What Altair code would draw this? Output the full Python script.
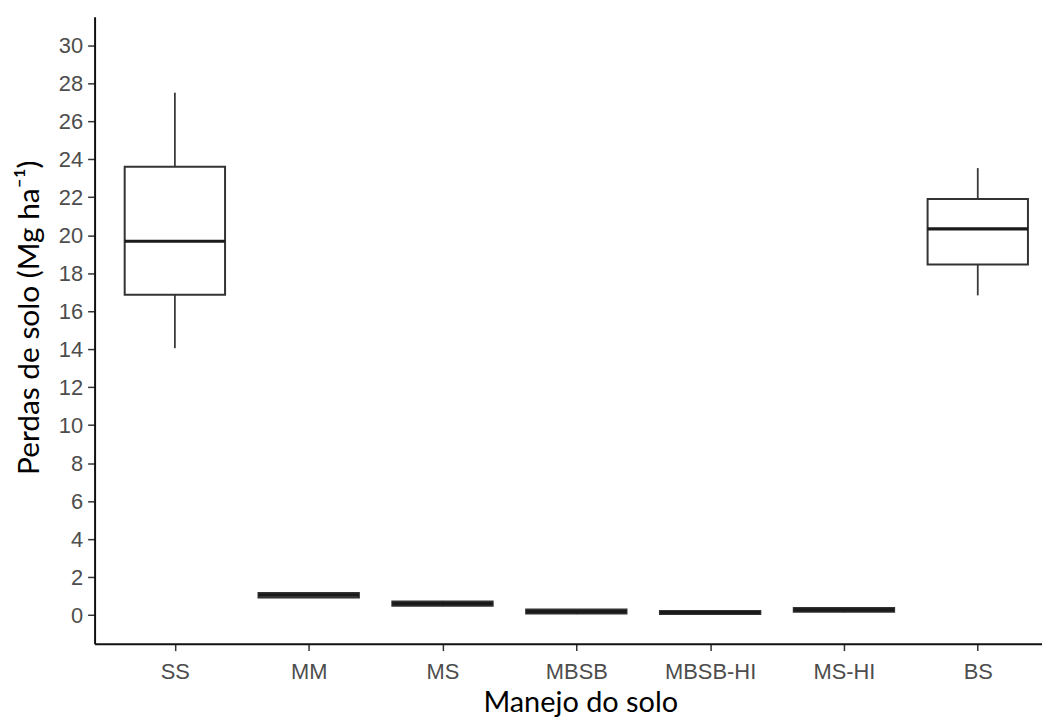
import json
import altair as alt
import pandas as pd

categories = ["SS", "MM", "MS", "MBSB", "MBSB-HI", "MS-HI", "BS"]
lower = [14.05, 0.90, 0.47, 0.05, 0.04, 0.15, 16.83]
q1 = [16.87, 0.93, 0.50, 0.08, 0.06, 0.18, 18.46]
median = [19.68, 1.05, 0.61, 0.19, 0.14, 0.28, 20.33]
q3 = [23.60, 1.17, 0.72, 0.30, 0.22, 0.38, 21.90]
upper = [27.50, 1.20, 0.75, 0.32, 0.24, 0.41, 23.53]
y_ticks = list(range(0, 31, 2))

df = pd.DataFrame({
    "cat": categories,
    "i": list(range(len(categories))),
    "lower": lower,
    "q1": q1,
    "median": median,
    "q3": q3,
    "upper": upper,
})

LABEL_FONT = "'Liberation Sans Narrow', 'Arial Narrow', 'Liberation Sans', sans-serif"
TITLE_FONT = "Lato, 'Open Sans', sans-serif"

xscale = alt.Scale(domain=[-0.6, 6.48], nice=False, zero=False)
yscale = alt.Scale(domain=[-1.5, 31.5], nice=False, zero=False)

label_expr = json.dumps(categories) + "[datum.value]"

x_axis = alt.Axis(
    values=list(range(len(categories))),
    labelExpr=label_expr,
    title="Manejo do solo",
    grid=False,
    domainColor="#111111",
    domainWidth=2,
    tickColor="#333333",
    tickWidth=1.5,
    tickSize=7,
    labelFont=LABEL_FONT,
    labelFontSize=22,
    labelColor="#4d4d4d",
    labelPadding=11,
    titleFont=TITLE_FONT,
    titleFontSize=29,
    titleFontWeight="normal",
    titleColor="#000000",
    titleX=488,
    titleY=68,
    titleAlign="center",
    titleBaseline="alphabetic",
)

y_axis = alt.Axis(
    values=y_ticks,
    title="Perdas de solo (Mg ha\u207b\u00b9)",
    grid=False,
    domainColor="#111111",
    domainWidth=2,
    tickColor="#333333",
    tickWidth=1.5,
    tickSize=7,
    labelFont=LABEL_FONT,
    labelFontSize=22,
    labelColor="#4d4d4d",
    labelPadding=5,
    titleFont=TITLE_FONT,
    titleFontSize=30,
    titleFontWeight="normal",
    titleColor="#000000",
    titleAngle=270,
    titleX=-65,
    titleY=302,
    titleAlign="center",
    titleBaseline="middle",
)

base = alt.Chart(df).transform_calculate(
    x_lo="datum.i - 0.375", x_hi="datum.i + 0.375"
)

whisk_up = base.mark_rule(color="#3a3a3a", strokeWidth=1.8).encode(
    x=alt.X("i:Q", scale=xscale, axis=x_axis),
    y=alt.Y("q3:Q", scale=yscale, axis=y_axis),
    y2="upper:Q",
)
whisk_lo = base.mark_rule(color="#3a3a3a", strokeWidth=1.8).encode(
    x=alt.X("i:Q", scale=xscale),
    y=alt.Y("lower:Q", scale=yscale),
    y2="q1:Q",
)
box = base.mark_bar(fill="white", stroke="#333333", strokeWidth=2).encode(
    x=alt.X("x_lo:Q", scale=xscale),
    x2="x_hi:Q",
    y=alt.Y("q1:Q", scale=yscale),
    y2="q3:Q",
)
med = base.mark_rule(color="#1a1a1a", strokeWidth=3.2).encode(
    x=alt.X("x_lo:Q", scale=xscale),
    x2="x_hi:Q",
    y=alt.Y("median:Q", scale=yscale),
)

chart = (
    alt.layer(whisk_up, whisk_lo, box, med)
    .properties(
        width=952,
        height=630,
        autosize=alt.AutoSizeParams(type="none"),
        padding={"left": 87, "top": 7, "right": 0, "bottom": 73},
        background="white",
    )
    .configure_view(stroke=None)
)

chart.save("out.html", embed_options={"renderer": "svg", "actions": False})
